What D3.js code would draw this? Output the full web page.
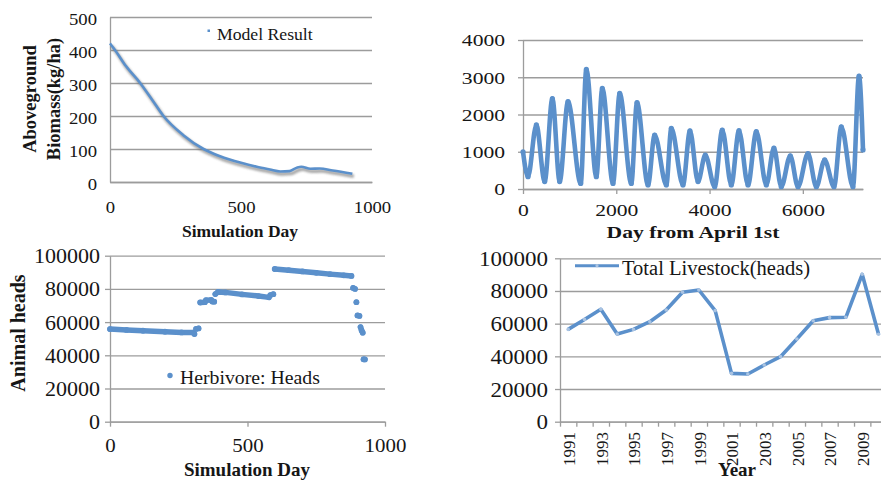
<!DOCTYPE html>
<html>
<head>
<meta charset="utf-8">
<script src="https://cdn.jsdelivr.net/npm/d3@7/dist/d3.min.js"></script>
<style>
body { margin: 0; background: #fff; }
svg { display: block; }
text { font-family: "Liberation Serif", "Times New Roman", serif; fill: #161616; }
</style>
</head>
<body>
<div id="chart"></div>
<script>
/*global d3 */

////////////////////////////////////////
// data
////////////////////////////////////////

var biomassDays = [0, 19, 60, 115, 160, 204, 280, 357, 420, 500, 560, 610, 650, 685, 715, 730, 765, 800, 850, 925],
    biomassKgHa = [420, 400, 352, 300, 250, 200, 142, 100, 78, 58, 46, 38, 32, 33, 44, 46, 40, 41, 35, 25],
    biomassXTicks = [0, 500, 1000],
    biomassYTicks = [0, 100, 200, 300, 400, 500];

var grassDays = [0, 107, 286, 465, 630, 786, 965, 1237, 1358, 1572, 1700, 1930, 2073, 2322,
                 2444, 2680, 2823, 3073, 3180, 3430, 3580, 3752, 3909, 4110, 4273, 4466, 4631,
                 4824, 5003, 5217, 5380, 5538, 5731, 5896, 6110, 6289, 6468, 6668, 6825, 7075,
                 7204, 7290],
    grassKgHa = [1000, 330, 1720, 200, 2430, 200, 2345, 150, 3210, 330, 2700, 150, 2570, 150,
                 2320, 110, 1450, 110, 1630, 110, 1560, 200, 910, 60, 1580, 110, 1565,
                 110, 1540, 110, 1100, 60, 890, 60, 950, 60, 780, 60, 1670, 60,
                 3030, 1050],
    grassXTicks = [0, 2000, 4000, 6000],
    grassYTicks = [0, 1000, 2000, 3000, 4000];

// herbivore heads: runs of points that sit next to each other
var herbDays  = [0, 60, 120, 200, 260, 303, 307, 313, 322, 328, 345, 349, 368, 372, 379,
                 383, 393, 420, 480, 540, 578, 583, 594, 599, 650, 700, 750, 800, 850, 878,
                 884, 891, 896, 900, 907, 911, 915, 919, 922, 927],
    herbHeads = [55800, 55300, 54800, 54200, 53800, 53700, 52800, 55900, 56200, 71800, 72000,
                 73200, 73300, 72400, 72300, 76900, 78200, 77900, 76700, 75700, 74900, 76300,
                 76800, 92000, 91300, 90500, 89700, 88900, 88200, 87800, 80600, 80000, 72000,
                 64000, 63700, 57000, 55000, 53600, 37600, 37500],
    herbRun   = [0, 0, 0, 0, 0, 0, 1, 2, 2, 3, 3, 4, 4, 5, 5, 6, 6, 6, 6, 6, 6, 7, 7,
                 8, 8, 8, 8, 8, 8, 8, 9, 9, 10, 11, 11, 12, 12, 12, 13, 13],
    herbXTicks = [0, 500, 1000],
    herbYTicks = [0, 20000, 40000, 60000, 80000, 100000];

var stockYears = [1991, 1992, 1993, 1994, 1995, 1996, 1997, 1998, 1999, 2000,
                  2001, 2002, 2003, 2004, 2005, 2006, 2007, 2008, 2009, 2010],
    stockHeads = [56500, 62600, 68800, 53700, 56500, 61200, 68400, 79200, 80600, 68000,
                  29600, 29200, 34700, 39800, 50600, 61800, 63700, 63900, 90200, 53500],
    stockYTicks = [0, 20000, 40000, 60000, 80000, 100000];

(function () {
    "use strict";

    var BLUE = "#5b90cb", GRID = "#9c9c9c",
        SERIF = "'Liberation Serif', 'Times New Roman', serif",
        svg = d3.select("#chart").append("svg")
            .attr("width", 881).attr("height", 480),


    ////////////////////////////////////////
    // helper functions
    ////////////////////////////////////////

    styleText = function (sel, fs, sx) {
        sel.style("font-family", SERIF).style("font-size", fs + "px")
            .attr("transform", "scale(" + sx + ",1)");
    },


    drawYAxis = function (y, ticks, x0, x1, o) {
        var grid, ax;
        grid = svg.append("g").attr("transform", "translate(" + x0 + ",0)")
            .call(d3.axisLeft(y).tickValues(ticks).tickSize(-(x1 - x0)).tickFormat(""));
        grid.select(".domain").remove();
        grid.selectAll("line").attr("stroke", GRID).attr("stroke-width", 1.3);
        ax = svg.append("g").attr("transform", "translate(" + x0 + ",0)")
            .call(d3.axisLeft(y).tickValues(ticks).tickSizeInner(o.tick)
                  .tickSizeOuter(0).tickFormat(d3.format("d")))
            .attr("font-family", null).attr("font-size", null);
        ax.select(".domain").attr("stroke", GRID).attr("stroke-width", 1.3);
        ax.selectAll(".tick line").attr("stroke", GRID).attr("stroke-width", 1.3);
        ax.selectAll("text").attr("x", -o.gap / o.sx).attr("dy", o.dy || "0.35em")
            .call(styleText, o.fs, o.sx);
    },


    drawXAxis = function (x, ticks, yPos, o) {
        var ax = svg.append("g").attr("transform", "translate(0," + yPos + ")")
            .call(d3.axisBottom(x).tickValues(ticks).tickSizeInner(o.tick)
                  .tickSizeOuter(0).tickFormat(d3.format("d")))
            .attr("font-family", null).attr("font-size", null);
        ax.select(".domain").attr("stroke", GRID).attr("stroke-width", 1.3);
        ax.selectAll(".tick line").attr("stroke", GRID).attr("stroke-width", 1.3);
        ax.selectAll("text").attr("y", o.off).attr("dy", "0.35em")
            .call(styleText, o.fs, o.sx);
    },


    title = function (x, y, txt, fs, sx, rot) {
        svg.append("text")
            .attr("transform", "translate(" + x + "," + y + ")" +
                  (rot ? " rotate(-90)" : "") + " scale(" + sx + ",1)")
            .attr("text-anchor", "middle")
            .style("font-family", SERIF)
            .style("font-size", fs + "px").style("font-weight", "bold")
            .text(txt);
    },


    legendText = function (x, y, txt, fs, sx) {
        svg.append("text")
            .attr("transform", "translate(" + x + "," + y + ") scale(" + sx + ",1)")
            .style("font-family", SERIF)
            .style("font-size", fs + "px").text(txt);
    },


    ////////////////////////////////////////
    // panels
    ////////////////////////////////////////

    biomassPanel = function () {
        var x = d3.scaleLinear().domain([0, 1000]).range([110, 372]),
            y = d3.scaleLinear().domain([0, 500]).range([182, 17]),
            pts = d3.zip(biomassDays, biomassKgHa),
            line = d3.line().curve(d3.curveMonotoneX)
                .x(function (d) { return x(d[0]); })
                .y(function (d) { return y(d[1]); }),
            defs = svg.append("defs");
        defs.append("filter").attr("id", "soft")
            .append("feGaussianBlur").attr("stdDeviation", 1);
        drawYAxis(y, biomassYTicks, 110, 372, {tick: 0, gap: 13, fs: 17, sx: 1.1, dy: "0.42em"});
        drawXAxis(x, biomassXTicks, 182, {tick: 0, off: 25, fs: 17, sx: 1.1});
        svg.append("path").datum(pts).attr("d", line)
            .attr("fill", "none").attr("stroke", "#6f6f6f").attr("stroke-width", 3.5)
            .attr("opacity", 0.6).attr("filter", "url(#soft)")
            .attr("transform", "translate(1.5,2.5)");
        svg.append("path").datum(pts).attr("d", line)
            .attr("fill", "none").attr("stroke", BLUE).attr("stroke-width", 2.6);
        svg.append("rect").attr("x", 207.5).attr("y", 29.5).attr("width", 2.5)
            .attr("height", 2.5).attr("fill", BLUE);
        legendText(217, 39.5, "Model Result", 17, 1.04);
        title(36, 99, "Aboveground", 18.5, 1, true);
        title(60, 99, "Biomass(kg/ha)", 18.5, 1, true);
        title(240, 237, "Simulation Day", 17.5, 1, false);
    },


    grassPanel = function () {
        var x = d3.scaleLinear().domain([0, 7290]).range([523, 863]),
            y = d3.scaleLinear().domain([0, 4000]).range([189, 40]),
            pts = d3.zip(grassDays, grassKgHa),
            line = d3.line().curve(d3.curveMonotoneX)
                .x(function (d) { return x(d[0]); })
                .y(function (d) { return y(d[1]); });
        drawYAxis(y, grassYTicks, 523, 863, {tick: 5, gap: 18, fs: 17, sx: 1.27});
        drawXAxis(x, grassXTicks, 189, {tick: 5, off: 21, fs: 17, sx: 1.27});
        svg.append("path").datum(pts).attr("d", line)
            .attr("fill", "none").attr("stroke", BLUE).attr("stroke-width", 4.6)
            .attr("stroke-linejoin", "round");
        svg.append("g").selectAll("circle").data(pts).join("circle")
            .attr("cx", function (d) { return x(d[0]); })
            .attr("cy", function (d) { return y(d[1]); })
            .attr("r", 2.6).attr("fill", BLUE);
        title(693, 238, "Day from April 1st", 17, 1.27, false);
    },


    herbPanel = function () {
        var x = d3.scaleLinear().domain([0, 1000]).range([110, 385]),
            y = d3.scaleLinear().domain([0, 100000]).range([421.7, 255.7]),
            pts = d3.zip(herbDays, herbHeads, herbRun),
            runs = d3.groups(pts, function (d) { return d[2]; }),
            line = d3.line()
                .x(function (d) { return x(d[0]); })
                .y(function (d) { return y(d[1]); });
        drawYAxis(y, herbYTicks, 110, 385, {tick: 5, gap: 10, fs: 20, sx: 1.1});
        drawXAxis(x, herbXTicks, 421.7, {tick: 5, off: 23.5, fs: 19, sx: 1.1});
        svg.append("g").selectAll("path").data(runs).join("path")
            .attr("d", function (r) { return line(r[1]); })
            .attr("fill", "none").attr("stroke", BLUE).attr("stroke-width", 5.5)
            .attr("stroke-linecap", "round");
        svg.append("g").selectAll("circle").data(pts).join("circle")
            .attr("cx", function (d) { return x(d[0]); })
            .attr("cy", function (d) { return y(d[1]); })
            .attr("r", 2.9).attr("fill", BLUE);
        svg.append("circle").attr("cx", 170).attr("cy", 375.5).attr("r", 2.7)
            .attr("fill", BLUE);
        legendText(180, 384, "Herbivore: Heads", 19, 1.04);
        title(24.5, 333, "Animal heads", 20, 1, true);
        title(247, 475.5, "Simulation Day", 19, 1, false);
    },


    stockPanel = function () {
        var band = d3.scaleBand().domain(stockYears).range([560, 886.7]),
            idx = d3.scaleLinear().domain([0, stockYears.length]).range([560, 886.7]),
            y = d3.scaleLinear().domain([0, 100000]).range([421.7, 258.3]),
            cx = function (yr) { return band(yr) + band.bandwidth() / 2; },
            pts = d3.zip(stockYears, stockHeads),
            line = d3.line()
                .x(function (d) { return cx(d[0]); })
                .y(function (d) { return y(d[1]); }),
            ax;
        drawYAxis(y, stockYTicks, 560, 886.7, {tick: 5, gap: 12, fs: 20, sx: 1.15});
        ax = svg.append("g").attr("transform", "translate(0,421.7)")
            .call(d3.axisBottom(idx).tickValues(d3.range(stockYears.length + 1))
                  .tickSizeInner(5).tickSizeOuter(0).tickFormat(""));
        ax.select(".domain").attr("stroke", GRID).attr("stroke-width", 1.3);
        ax.selectAll(".tick line").attr("stroke", GRID).attr("stroke-width", 1.3);
        svg.append("g").selectAll("text")
            .data(stockYears.filter(function (d, i) { return i % 2 === 0; }))
            .join("text")
            .attr("transform", function (d) {
                return "translate(" + (cx(d) + 1) + ",432) rotate(-90)"; })
            .attr("text-anchor", "end").attr("dy", "0.35em")
            .style("font-family", SERIF)
            .style("font-size", "17px")
            .text(String);
        svg.append("path").datum(pts).attr("d", line)
            .attr("fill", "none").attr("stroke", BLUE).attr("stroke-width", 3.6)
            .attr("stroke-linejoin", "round");
        svg.append("g").selectAll("circle").data(pts).join("circle")
            .attr("cx", function (d) { return cx(d[0]); })
            .attr("cy", function (d) { return y(d[1]); })
            .attr("r", 1.8).attr("fill", "#a9c3e2");
        svg.append("line").attr("x1", 575).attr("x2", 619).attr("y1", 265.7)
            .attr("y2", 265.7).attr("stroke", BLUE).attr("stroke-width", 3);
        svg.append("circle").attr("cx", 597).attr("cy", 265.7).attr("r", 1.6)
            .attr("fill", "#a9c3e2");
        legendText(622, 274.5, "Total Livestock(heads)", 20.5, 1.0);
        title(737, 475.5, "Year", 19, 1, false);
    };

    svg.append("rect").attr("width", 881).attr("height", 480).attr("fill", "#fff");
    biomassPanel();
    grassPanel();
    herbPanel();
    stockPanel();
}());
</script>
</body>
</html>
